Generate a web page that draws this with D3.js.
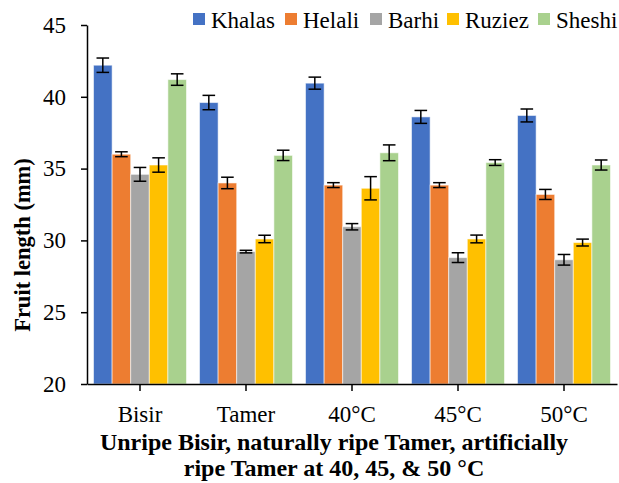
<!DOCTYPE html>
<html>
<head>
<meta charset="utf-8">
<script src="https://cdn.jsdelivr.net/npm/d3@7"></script>
<style>
  html, body { margin: 0; padding: 0; background: #fff; }
  svg { display: block; }
</style>
</head>
<body>
<svg id="chart" width="619" height="483"></svg>
<script>
// Ripening stages on the x axis
const stages = ["Bisir", "Tamer", "40°C", "45°C", "50°C"];
// Cultivars (one bar per cultivar in each stage)
const cultivars = ["Khalas", "Helali", "Barhi", "Ruziez", "Sheshi"];
const colors = ["#4472C4", "#ED7D31", "#A5A5A5", "#FFC000", "#A9D18E"];

// Mean fruit length (mm), per cultivar, in stage order
const khalas = [42.2, 39.6, 40.95, 38.6, 38.7];
const helali = [36.0, 34.0, 33.85, 33.85, 33.2];
const barhi  = [34.6, 29.22, 30.95, 28.8, 28.65];
const ruziez = [35.25, 30.1, 33.63, 30.1, 29.85];
const sheshi = [41.2, 35.92, 36.1, 35.42, 35.25];

// Standard errors
const khalasErr = [0.5, 0.5, 0.42, 0.45, 0.45];
const helaliErr = [0.17, 0.4, 0.17, 0.17, 0.35];
const barhiErr  = [0.48, 0.09, 0.22, 0.34, 0.37];
const ruziezErr = [0.5, 0.26, 0.81, 0.27, 0.24];
const sheshiErr = [0.4, 0.36, 0.55, 0.2, 0.35];

const yTicks = [20, 25, 30, 35, 40, 45];

const means = [khalas, helali, barhi, ruziez, sheshi];
const errs = [khalasErr, helaliErr, barhiErr, ruziezErr, sheshiErr];

const FONT = '"Liberation Serif", "Times New Roman", Times, serif';
const svg = d3.select("#chart").style("font-family", FONT);
const plotLeft = 87, plotRight = 617, plotTop = 25, plotBottom = 384;

const x = d3.scaleBand().domain(stages).range([plotLeft, plotRight])
  .paddingInner(0.123).paddingOuter(0.0615);
const xs = d3.scaleBand().domain(cultivars).range([0, x.bandwidth()]).padding(0);
const y = d3.scaleLinear().domain([20, 45]).range([plotBottom, plotTop]);

// Bars and error bars
const rows = [];
stages.forEach((s, i) => {
  cultivars.forEach((c, j) => {
    rows.push({ stage: s, cultivar: c, color: colors[j], v: means[j][i], e: errs[j][i] });
  });
});

const g = svg.append("g");
g.selectAll("rect.bar").data(rows).join("rect")
  .attr("class", "bar")
  .attr("x", d => x(d.stage) + xs(d.cultivar))
  .attr("y", d => y(d.v))
  .attr("width", xs.bandwidth())
  .attr("height", d => y(20) - y(d.v))
  .attr("fill", d => d.color)
  .attr("stroke", "#ffffff")
  .attr("stroke-opacity", 0.55)
  .attr("stroke-width", 1);

const cap = 6.3;
const cx = d => x(d.stage) + xs(d.cultivar) + xs.bandwidth() / 2;
const eb = g.selectAll("g.err").data(rows).join("g").attr("class", "err")
  .attr("stroke", "#000").attr("stroke-width", 1.5);
eb.append("line")
  .attr("x1", cx).attr("x2", cx)
  .attr("y1", d => y(d.v + d.e)).attr("y2", d => y(d.v - d.e));
eb.append("line")
  .attr("x1", d => cx(d) - cap).attr("x2", d => cx(d) + cap)
  .attr("y1", d => y(d.v + d.e)).attr("y2", d => y(d.v + d.e));
eb.append("line")
  .attr("x1", d => cx(d) - cap).attr("x2", d => cx(d) + cap)
  .attr("y1", d => y(d.v - d.e)).attr("y2", d => y(d.v - d.e));

// Y axis
const yAxis = svg.append("g").attr("transform", `translate(${plotLeft},0)`)
  .call(d3.axisLeft(y).tickValues(yTicks).tickSize(6).tickPadding(15).tickSizeOuter(0));
yAxis.attr("font-family", null).attr("font-size", null);
yAxis.select(".domain").attr("stroke", "#000").attr("stroke-width", 1.5);
yAxis.selectAll(".tick line").attr("stroke", "#000").attr("stroke-width", 1.5);
yAxis.selectAll("text").style("font-family", FONT).style("font-size", "23px")
  .attr("fill", "#000");

// X axis
const xAxis = svg.append("g").attr("transform", `translate(0,${plotBottom})`)
  .call(d3.axisBottom(x).tickSize(7).tickSizeOuter(0));
xAxis.attr("font-family", null).attr("font-size", null);
xAxis.select(".domain").attr("stroke", "#000").attr("stroke-width", 1.5);
xAxis.selectAll(".tick line").attr("stroke", "#000").attr("stroke-width", 1.5);
xAxis.selectAll("text").style("font-family", FONT).style("font-size", "23px")
  .attr("y", 38).attr("dy", 0).attr("fill", "#000");

// Axis titles
svg.append("text")
  .attr("transform", "translate(30,245) rotate(-90)")
  .attr("text-anchor", "middle")
  .style("font-family", FONT).style("font-size", "22.5px").style("font-weight", "bold")
  .text("Fruit length (mm)");

const xt = svg.append("text").attr("text-anchor", "middle")
  .style("font-family", FONT).style("font-size", "24px").style("font-weight", "bold");
xt.append("tspan").attr("x", 334).attr("y", 450)
  .text("Unripe Bisir, naturally ripe Tamer, artificially");
xt.append("tspan").attr("x", 334).attr("y", 476)
  .text("ripe Tamer at 40, 45, & 50 °C");

// Legend
const legendX = [193, 285, 370, 447, 538];
const lg = svg.append("g").selectAll("g").data(cultivars).join("g")
  .attr("transform", (d, i) => `translate(${legendX[i]},0)`);
lg.append("rect").attr("x", 0).attr("y", 13).attr("width", 12).attr("height", 12)
  .attr("fill", (d, i) => colors[i]);
lg.append("text").attr("x", 18).attr("y", 28)
  .style("font-family", FONT).style("font-size", "23px").text(d => d);
</script>
</body>
</html>
